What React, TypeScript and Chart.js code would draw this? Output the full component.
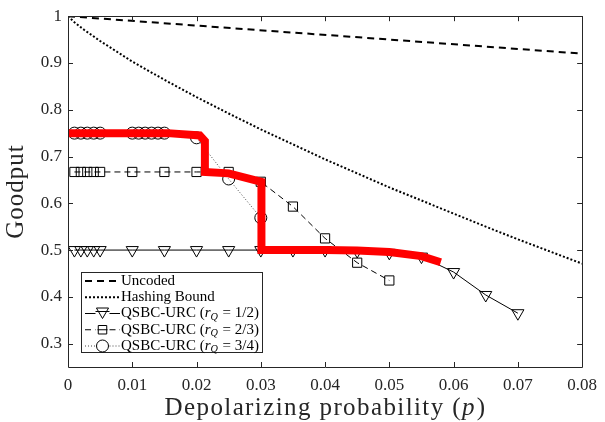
import React, { useEffect, useRef } from 'react';
import { Chart, registerables } from 'chart.js';

Chart.register(...registerables);

// ---------- data ----------
const xTicks = [0, 0.01, 0.02, 0.03, 0.04, 0.05, 0.06, 0.07, 0.08];
const yTicks = [0.3, 0.4, 0.5, 0.6, 0.7, 0.8, 0.9, 1];

const xTitle = 'Depolarizing probability (';
const xTitleVar = 'p';
const yTitle = 'Goodput';

const uncodedP = [0, 0.08];
const uncodedG = [1, 0.92];

const hashingP = [0, 0.001, 0.0025, 0.005, 0.01, 0.015, 0.02, 0.025, 0.03, 0.035, 0.04, 0.045, 0.05, 0.055, 0.06, 0.065, 0.07, 0.075, 0.08];
const hashingG = [1, 0.987, 0.971, 0.947, 0.903, 0.864, 0.827, 0.792, 0.758, 0.726, 0.694, 0.664, 0.634, 0.606, 0.578, 0.55, 0.523, 0.497, 0.471];

const r12P = [0.001, 0.002, 0.003, 0.004, 0.005, 0.01, 0.015, 0.02, 0.025, 0.03, 0.035, 0.04, 0.045, 0.05, 0.055, 0.06, 0.065, 0.07];
const r12G = [0.5, 0.5, 0.5, 0.5, 0.5, 0.5, 0.5, 0.5, 0.5, 0.5, 0.5, 0.5, 0.498, 0.494, 0.486, 0.453, 0.404, 0.365];

const r23P = [0.001, 0.002, 0.003, 0.004, 0.005, 0.01, 0.015, 0.02, 0.025, 0.03, 0.035, 0.04, 0.045, 0.05];
const r23G = [0.667, 0.667, 0.667, 0.667, 0.667, 0.667, 0.667, 0.667, 0.667, 0.646, 0.593, 0.525, 0.473, 0.435];

const r34P = [0.001, 0.002, 0.003, 0.004, 0.005, 0.01, 0.011, 0.012, 0.013, 0.014, 0.015, 0.02, 0.025, 0.03];
const r34G = [0.75, 0.75, 0.75, 0.75, 0.75, 0.75, 0.75, 0.75, 0.75, 0.75, 0.75, 0.74, 0.652, 0.569];

const bestP = [0, 0.0155, 0.0205, 0.0213, 0.0213, 0.025, 0.0301, 0.0301, 0.04, 0.045, 0.05, 0.055, 0.058];
const bestG = [0.75, 0.75, 0.745, 0.733, 0.667, 0.664, 0.646, 0.5, 0.5, 0.499, 0.496, 0.487, 0.474];

const legendNames = ['Uncoded', 'Hashing Bound', 'QSBC-URC', 'QSBC-URC', 'QSBC-URC'];
const legendRates = ['', '', '1/2', '2/3', '3/4'];

const FONT = '"Liberation Serif", "Times New Roman", serif';
const AXIS = '#262626';

const pts = (xs: number[], ys: number[]) => xs.map((x, i) => ({ x, y: ys[i] }));

function drawMarker(ctx: CanvasRenderingContext2D, kind: string, x: number, y: number, r: number) {
  ctx.beginPath();
  if (kind === 'tri') {
    ctx.moveTo(x - r * 0.866, y - r * 0.5);
    ctx.lineTo(x + r * 0.866, y - r * 0.5);
    ctx.lineTo(x, y + r);
    ctx.closePath();
  } else if (kind === 'rect') {
    const s = r * Math.SQRT1_2;
    ctx.rect(x - s, y - s, 2 * s, 2 * s);
  } else if (kind === 'circle') {
    ctx.arc(x, y, r, 0, Math.PI * 2);
  }
  ctx.stroke();
}

// draws "name (r_Q = rate)" with italic r and subscript Q; returns width
function richText(ctx: CanvasRenderingContext2D, name: string, rate: string, x: number, y: number, fs: number, draw: boolean) {
  let tx = x;
  const part = (t: string, font: string, dy = 0) => {
    ctx.font = font;
    if (draw) ctx.fillText(t, tx, y + dy);
    tx += ctx.measureText(t).width;
  };
  if (rate) {
    part(name + ' (', `${fs}px ${FONT}`);
    part('r', `italic ${fs}px ${FONT}`);
    part('Q', `italic ${fs * 0.68}px ${FONT}`, fs * 0.25);
    tx += 1;
    part(' = ' + rate + ')', `${fs}px ${FONT}`);
  } else {
    part(name, `${fs}px ${FONT}`);
  }
  return tx - x;
}

const framePlugin = {
  id: 'frame',
  afterDatasetsDraw(chart: any) {
    const { ctx, chartArea: a, scales } = chart;
    ctx.save();
    ctx.strokeStyle = AXIS;
    ctx.lineWidth = 1;
    ctx.beginPath();
    ctx.rect(Math.round(a.left) + 0.5, Math.round(a.top) + 0.5, Math.round(a.right - a.left), Math.round(a.bottom - a.top));
    ctx.stroke();
    const tl = 5;
    ctx.beginPath();
    xTicks.forEach((v) => {
      const px = Math.round(scales.x.getPixelForValue(v)) + 0.5;
      ctx.moveTo(px, a.bottom);
      ctx.lineTo(px, a.bottom - tl);
      ctx.moveTo(px, a.top);
      ctx.lineTo(px, a.top + tl);
    });
    yTicks.forEach((v) => {
      const py = Math.round(scales.y.getPixelForValue(v)) + 0.5;
      ctx.moveTo(a.left, py);
      ctx.lineTo(a.left + tl, py);
      ctx.moveTo(a.right, py);
      ctx.lineTo(a.right - tl, py);
    });
    ctx.stroke();

    // axis titles
    ctx.fillStyle = AXIS;
    ctx.textBaseline = 'alphabetic';
    ctx.textAlign = 'left';
    (ctx as any).letterSpacing = '1.4px';
    ctx.font = `25px ${FONT}`;
    const w1 = ctx.measureText(xTitle).width;
    ctx.font = `italic 25px ${FONT}`;
    const w2 = ctx.measureText(xTitleVar).width;
    ctx.font = `25px ${FONT}`;
    const w3 = ctx.measureText(')').width;
    const cx = (a.left + a.right) / 2;
    let tx = cx - (w1 + w2 + w3) / 2;
    const ty = 415;
    ctx.fillText(xTitle, tx, ty);
    tx += w1;
    ctx.font = `italic 25px ${FONT}`;
    ctx.fillText(xTitleVar, tx, ty);
    tx += w2 + 1;
    ctx.font = `25px ${FONT}`;
    ctx.fillText(')', tx, ty);

    ctx.save();
    ctx.translate(23.3, (a.top + a.bottom) / 2);
    ctx.rotate(-Math.PI / 2);
    (ctx as any).letterSpacing = '1px';
    ctx.textAlign = 'center';
    ctx.fillText(yTitle, 0, 0);
    ctx.restore();
    ctx.restore();
  },
  afterDraw(chart: any) {
    const ctx: CanvasRenderingContext2D = chart.ctx;
    const bx = 81.5, by = 272.5, bw = 181, bh = 80;
    ctx.save();
    ctx.fillStyle = '#fff';
    ctx.fillRect(bx, by, bw, bh);
    ctx.strokeStyle = AXIS;
    ctx.lineWidth = 1;
    ctx.strokeRect(bx, by, bw, bh);
    const styles = [
      { dash: [7, 5], w: 2, marker: '', color: '#000' },
      { dash: [2, 2], w: 2, marker: '', color: '#000' },
      { dash: [], w: 1, marker: 'tri', color: '#000' },
      { dash: [6, 4], w: 1, marker: 'rect', color: '#000' },
      { dash: [1, 2], w: 1, marker: 'circle', color: '#444' },
    ];
    const x0 = 85, x1 = 120, xm = 102.5;
    const textX = 121;
    const baseW = richText(ctx, legendNames[2], legendRates[2], 0, 0, 15, false);
    const fs = (15 * 138) / baseW;
    for (let i = 0; i < legendNames.length; i++) {
      const y = 281 + i * 16.25;
      const s = styles[i];
      ctx.save();
      ctx.strokeStyle = s.color;
      ctx.lineWidth = s.w;
      ctx.setLineDash(s.dash);
      ctx.beginPath();
      if (s.marker) {
        ctx.moveTo(x0, y);
        ctx.lineTo(xm - 7, y);
        ctx.moveTo(xm + 7, y);
        ctx.lineTo(x1, y);
      } else {
        ctx.moveTo(x0, y);
        ctx.lineTo(x1, y);
      }
      ctx.stroke();
      ctx.restore();
      if (s.marker) {
        ctx.save();
        ctx.strokeStyle = '#000';
        ctx.lineWidth = 1;
        if (s.marker === 'rect') {
          ctx.beginPath();
          ctx.moveTo(xm - 5, y);
          ctx.lineTo(xm + 5, y);
          ctx.stroke();
        }
        if (s.marker === 'tri') {
          ctx.beginPath();
          ctx.moveTo(xm - 7, y - 2);
          ctx.lineTo(xm + 7, y - 2);
          ctx.stroke();
        }
        drawMarker(ctx, s.marker, xm, s.marker === 'tri' ? y - 2 : y, s.marker === 'tri' ? 7 : 6);
        ctx.restore();
      }
      ctx.fillStyle = '#000';
      ctx.textBaseline = 'middle';
      ctx.textAlign = 'left';
      richText(ctx, legendNames[i], legendRates[i], textX, y, fs, true);
    }
    ctx.restore();
  },
};

export default function App() {
  const ref = useRef<HTMLCanvasElement>(null);
  useEffect(() => {
    if (!ref.current) return;
    const common = { pointBackgroundColor: 'rgba(0,0,0,0)', pointBorderColor: '#000', pointBorderWidth: 1, pointHoverRadius: 0 };
    const chart = new Chart(ref.current, {
      type: 'line',
      data: {
        datasets: [
          {
            label: 'Best',
            data: pts(bestP, bestG),
            borderColor: '#ff0000',
            borderWidth: 8,
            pointRadius: 0,
            order: 0,
            borderJoinStyle: 'miter',
          } as any,
          {
            label: 'Uncoded',
            data: pts(uncodedP, uncodedG),
            borderColor: '#000',
            borderWidth: 2,
            borderDash: [7, 5],
            pointRadius: 0,
            order: 5,
          },
          {
            label: 'Hashing Bound',
            data: pts(hashingP, hashingG),
            borderColor: '#000',
            borderWidth: 2,
            borderDash: [2, 2],
            pointRadius: 0,
            order: 4,
          },
          {
            label: 'QSBC-URC (r_Q = 1/2)',
            data: pts(r12P, r12G),
            borderColor: '#000',
            borderWidth: 1,
            pointStyle: 'triangle',
            pointRotation: 180,
            pointRadius: 7,
            order: 3,
            ...common,
          },
          {
            label: 'QSBC-URC (r_Q = 2/3)',
            data: pts(r23P, r23G),
            borderColor: '#000',
            borderWidth: 1,
            borderDash: [6, 4],
            pointStyle: 'rect',
            pointRadius: 6.5,
            order: 2,
            ...common,
          },
          {
            label: 'QSBC-URC (r_Q = 3/4)',
            data: pts(r34P, r34G),
            borderColor: '#444',
            borderWidth: 1,
            borderDash: [1, 2],
            pointStyle: 'circle',
            pointRadius: 6,
            order: 1,
            ...common,
          },
        ],
      },
      options: {
        animation: false,
        responsive: false,
        events: [],
        layout: { padding: { top: 14.5, right: 18, bottom: 0, left: 0 } },
        plugins: { legend: { display: false }, tooltip: { enabled: false } },
        scales: {
          x: {
            type: 'linear',
            min: 0,
            max: 0.08,
            grid: { display: false, drawTicks: false },
            border: { display: false },
            afterBuildTicks: (s: any) => { s.ticks = xTicks.map((v) => ({ value: v })); },
            afterFit: (s: any) => { s.height = 55; },
            ticks: {
              padding: 8,
              color: AXIS,
              font: { family: FONT, size: 17 },
              maxRotation: 0,
              callback: (v: any) => String(Number(v.toFixed(2))),
            },
            title: { display: false },
          },
          y: {
            type: 'linear',
            min: 0.25,
            max: 1,
            grid: { display: false, drawTicks: false },
            border: { display: false },
            afterBuildTicks: (s: any) => { s.ticks = yTicks.map((v) => ({ value: v })); },
            afterFit: (s: any) => { s.width = 68; },
            ticks: {
              padding: 6,
              color: AXIS,
              font: { family: FONT, size: 17 },
              callback: (v: any) => String(Number(v.toFixed(1))),
            },
            title: { display: false },
          },
        },
      },
      plugins: [framePlugin],
    });
    return () => chart.destroy();
  }, []);
  return (
    <div style={{ position: 'absolute', left: 0, top: 0, width: 605, height: 422, background: '#fff' }}>
      <canvas ref={ref} width={605} height={422} style={{ display: 'block' }} />
    </div>
  );
}
